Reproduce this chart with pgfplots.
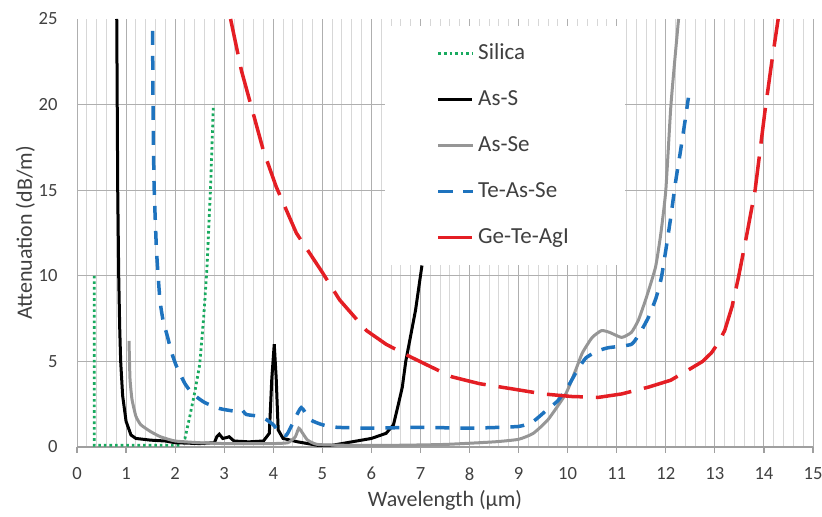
\documentclass[border=0pt]{standalone}
\usepackage{fontspec}
\setmainfont{Carlito}
\usepackage{pgfplots}
\pgfplotsset{compat=1.18}

\definecolor{silicagreen}{RGB}{25,170,95}
\definecolor{asseGray}{RGB}{150,150,150}
\definecolor{teasseBlue}{RGB}{30,115,190}
\definecolor{getered}{RGB}{228,30,36}
\definecolor{labelgray}{RGB}{64,64,64}
\definecolor{majgrid}{RGB}{175,175,175}
\definecolor{mingrid}{RGB}{215,215,215}

\begin{document}
\begin{tikzpicture}
\begin{axis}[
  name=ax,
  scale only axis,
  width=368pt, height=214pt,
  xmin=0, xmax=15, ymin=0, ymax=25,
  xtick={0,1,...,15},
  ytick={0,5,10,15,20},
  extra y ticks={25},
  extra y tick style={grid=none},
  minor x tick num=4,
  xmajorgrids, xminorgrids, ymajorgrids,
  major grid style={draw=majgrid, line width=0.5pt},
  minor grid style={draw=mingrid, line width=0.5pt},
  axis lines*=left,
  x axis line style={draw=gray!75, line width=0.7pt},
  y axis line style={draw=none},
  ytick style={draw=none},
  xtick style={draw=gray!75, line width=0.6pt},
  minor tick length=0pt,
  major tick length=3pt,
  tick align=outside,
  /pgf/number format/assume math mode=true,
  ticklabel style={font=\fontsize{9.3}{11}\selectfont, text=labelgray, inner sep=0pt},
  xticklabel shift=7pt,
  yticklabel shift=6.5pt,
  xlabel={Wavelength (µm)},
  ylabel={Attenuation (dB/m)},
  label style={font=\fontsize{11}{13}\selectfont, text=labelgray},
  xlabel style={at={(axis description cs:0.5,-0.124)}, anchor=center},
  ylabel style={at={(axis description cs:-0.07,0.5)}, anchor=center},
  legend cell align=left,
  legend style={
    at={(axis cs:6.26,24.6)}, anchor=north west,
    draw=none, fill=white,
    font=\fontsize{11.5}{13}\selectfont, text=labelgray,
    inner xsep=26pt, inner ysep=6.5pt,
    row sep=8.5pt,
    nodes={inner sep=2pt, text height=8pt, text depth=2.5pt},
  },
]

% silica
\addplot[color=silicagreen, line width=1.4pt, dash pattern=on 1.3pt off 1.5pt]
coordinates {
(0.35,10) (0.35,0.1) (1.0,0.1) (2.1,0.1) (2.2,0.5) (2.3,1.8) (2.4,3.2)
(2.5,4.8) (2.58,7.5) (2.65,10.5) (2.72,15) (2.78,20)
};
\addlegendentry{Silica}

% arsenic sulphide
\addplot[color=black, line width=1.5pt]
coordinates {
(0.81,25) (0.82,20) (0.83,15) (0.85,10) (0.87,7) (0.89,5) (0.93,3)
(1.0,1.5) (1.1,0.7) (1.2,0.5) (1.5,0.4) (1.8,0.35) (2.0,0.25) (2.5,0.2)
(2.8,0.25) (2.85,0.6) (2.9,0.75) (2.97,0.5) (3.05,0.55) (3.1,0.6) (3.2,0.35)
(3.5,0.3) (3.8,0.35) (3.92,0.8) (3.97,4) (4.02,6.0) (4.06,4) (4.1,1)
(4.2,0.5) (4.5,0.3) (4.7,0.2) (4.9,0.1) (5.2,0.1) (5.6,0.3) (6.0,0.5)
(6.3,0.8) (6.45,1.3) (6.55,2.5) (6.63,3.5) (6.7,5) (6.8,6.5) (6.9,8)
(7.03,10.6)
};
\addlegendentry{As-S}

% arsenic selenide
\addplot[color=asseGray, line width=1.5pt, smooth, tension=0.3]
coordinates {
(1.06,6.2) (1.08,4) (1.12,2.8) (1.2,1.8) (1.3,1.3) (1.5,0.9) (1.7,0.6)
(2.0,0.35) (2.5,0.25) (3.0,0.2) (3.5,0.2) (4.0,0.2) (4.3,0.25) (4.45,0.6)
(4.52,1.1) (4.6,0.8) (4.7,0.4) (4.9,0.15) (5.5,0.1) (6.5,0.1) (7.5,0.15)
(8.5,0.3) (9.0,0.45) (9.3,0.8) (9.6,1.6) (9.96,3.1) (10.15,4.4) (10.3,5.5)
(10.5,6.4) (10.69,6.8) (10.85,6.7) (11.1,6.4) (11.3,6.7) (11.44,7.4)
(11.6,8.7) (11.79,10.5) (11.9,12.5) (12.0,15) (12.1,19.8) (12.18,22.5)
(12.26,25)
};
\addlegendentry{As-Se}

% tellurium arsenic selenide
\addplot[color=teasseBlue, line width=1.75pt, dash pattern=on 7pt off 5.5pt, smooth, tension=0.3]
coordinates {
(1.54,24.3) (1.55,20) (1.57,15.4) (1.62,11.5) (1.69,8.6) (1.76,7.3)
(1.83,6.6) (1.93,5.5) (2.03,4.7) (2.2,3.7) (2.36,3.1) (2.6,2.6) (2.9,2.25)
(3.2,2.1) (3.35,2.2) (3.45,1.9) (3.7,1.8) (3.86,1.6) (4.0,1.3) (4.15,0.8)
(4.27,0.7) (4.4,1.4) (4.57,2.3) (4.75,1.6) (5.0,1.3) (5.3,1.15) (6,1.1)
(7,1.15) (8,1.1) (9.0,1.2) (9.3,1.5) (9.55,2.1) (9.8,2.7) (10.0,3.5)
(10.2,4.5) (10.37,5.2) (10.6,5.6) (10.83,5.8) (11.3,6.0) (11.5,6.8)
(11.65,7.6) (11.8,8.7) (11.91,9.9) (12.0,11.5) (12.1,13.4) (12.2,15.5)
(12.3,17.3) (12.4,19.2) (12.46,20.4)
};
\addlegendentry{Te-As-Se}

% germanium telluride with silver iodide
\addplot[color=getered, line width=1.75pt, dash pattern=on 18pt off 6.5pt]
coordinates {
(3.13,25) (3.35,22) (3.58,19.6) (3.8,17.3) (4.06,15.2) (4.47,12.5)
(5.0,10.2) (5.35,8.6) (5.9,6.8) (6.3,6.0) (6.7,5.4) (7.2,4.7) (7.64,4.1)
(8.2,3.7) (8.86,3.4) (9.5,3.1) (10.08,2.95) (10.63,2.9) (11.1,3.1)
(11.65,3.5) (12.1,3.9) (12.46,4.5) (12.75,5.0) (12.93,5.5) (13.05,6.0)
(13.2,6.8) (13.35,8.2) (13.48,9.9) (13.65,12.4) (13.82,15) (14.02,19.6)
(14.15,22.3) (14.29,25)
};
\addlegendentry{Ge-Te-AgI}

\end{axis}
\pgfresetboundingbox
\path ([xshift=-38.5pt,yshift=-35pt]ax.south west)
  rectangle ([xshift=4.5pt,yshift=9.5pt]ax.north east);
\end{tikzpicture}
\end{document}
